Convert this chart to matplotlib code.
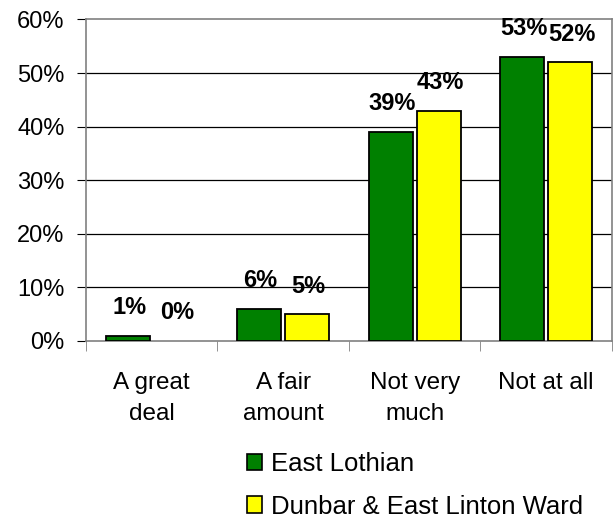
import numpy as np
import matplotlib.pyplot as plt
from matplotlib.patches import Patch

plt.rcParams['font.family'] = ['Liberation Sans', 'DejaVu Sans']

categories = ['A great\ndeal', 'A fair\namount', 'Not very\nmuch', 'Not at all']
east_lothian = [1, 6, 39, 53]
dunbar = [0, 5, 43, 52]
series_names = ['East Lothian', 'Dunbar & East Linton Ward']
colors = ['#008000', '#ffff00']

fig = plt.figure(figsize=(6.14, 5.18), dpi=100)
ax = fig.add_axes([0.140, 0.3417, 0.8567, 0.6207])

x = np.arange(len(categories))
w = 0.335
gap = 0.015
for i, (vals, c) in enumerate(((east_lothian, colors[0]), (dunbar, colors[1]))):
    pos = x - w / 2 - gap if i == 0 else x + w / 2 + gap
    lw = [1.3 if v > 0 else 0 for v in vals]
    bars = ax.bar(pos, vals, w, color=c, edgecolor='black', linewidth=lw, zorder=3)
    for b, v in zip(bars, vals):
        ax.annotate(f'{v}%', (b.get_x() + b.get_width() / 2, v), xytext=(1, 12),
                    textcoords='offset points', ha='center', va='bottom',
                    fontsize=17, fontweight='bold', zorder=4)

ax.set_xlim(-0.5, 3.5)
ax.set_ylim(0, 60)
ax.set_yticks(range(0, 61, 10))
ax.set_yticklabels([f'{t}%' for t in range(0, 61, 10)], fontsize=17)
ax.set_xticks(x)
ax.set_xticklabels(categories, fontsize=17.5, linespacing=1.55)
ax.set_xticks(np.arange(-0.5, 3.6, 1), minor=True)
ax.tick_params(axis='x', which='major', length=0, pad=22)
ax.tick_params(axis='x', which='minor', length=7, color='#808080', direction='out')
ax.tick_params(axis='y', length=6.5, color='black', direction='out', pad=9)

for t in range(10, 60, 10):
    ax.axhline(t, color='black', linewidth=0.9, zorder=1)

for s in ('top', 'right', 'left', 'bottom'):
    ax.spines[s].set_color('#808080')
    ax.spines[s].set_linewidth(1.2)

handles = [Patch(facecolor=c, edgecolor='black', linewidth=1.2) for c in colors]
fig.legend(handles, series_names, loc='upper left', bbox_to_anchor=(0.402, 0.127),
           frameon=False, fontsize=18.5, handlelength=0.6, handleheight=0.6,
           handletextpad=0.35, labelspacing=0.72, borderaxespad=0, borderpad=0)

fig.savefig('out.png', dpi=100)
